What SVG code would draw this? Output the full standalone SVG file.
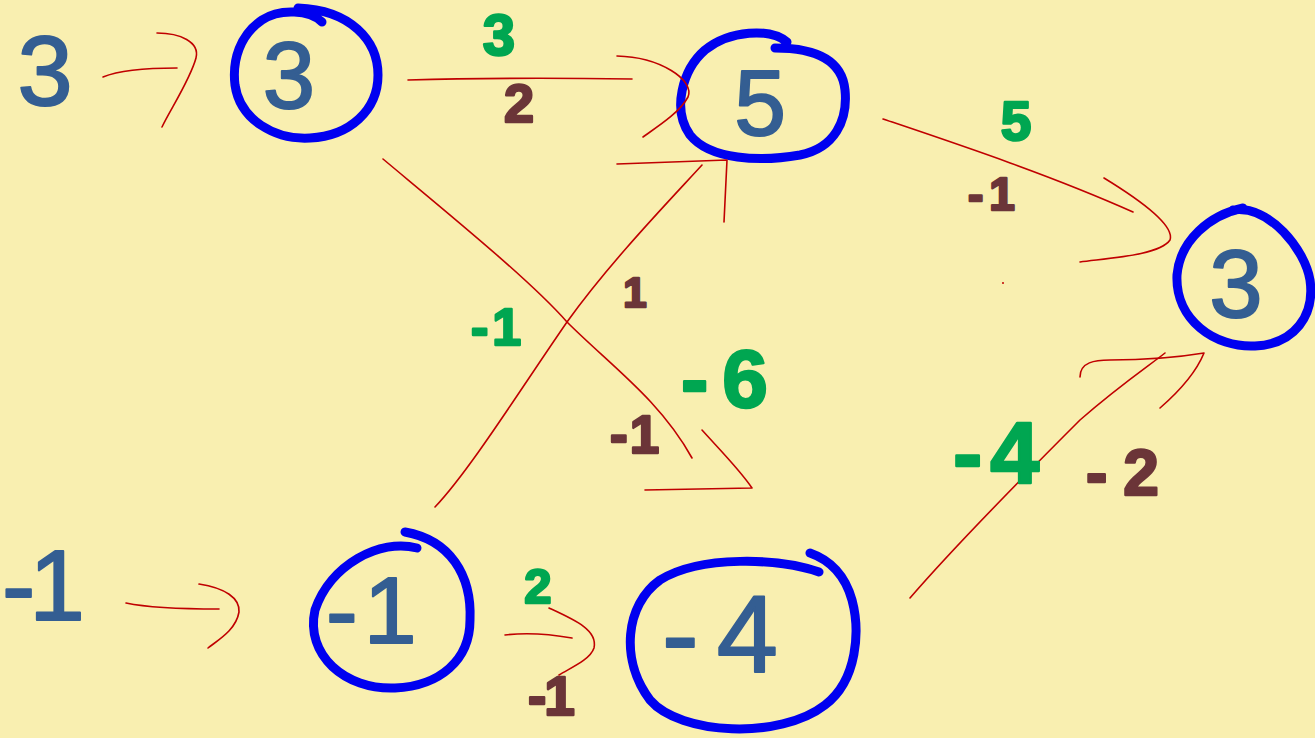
<svg xmlns="http://www.w3.org/2000/svg" width="1315" height="738" viewBox="0 0 1315 738">
<style>
.bg{fill:#F9EFB0}
.ring{fill:none;stroke:#0000F0;stroke-width:9;stroke-linecap:round;stroke-linejoin:round}
.val{font-family:"Liberation Sans","DejaVu Sans",sans-serif;fill:#345E92;stroke:#345E92;stroke-width:2;stroke-linejoin:round}
.g{font-family:"Liberation Sans","DejaVu Sans",sans-serif;font-weight:bold;fill:#00A651;stroke:#00A651;stroke-width:2.5;stroke-linejoin:round}
.b{font-family:"Liberation Sans","DejaVu Sans",sans-serif;font-weight:bold;fill:#6B3538;stroke:#6B3538;stroke-width:2.5;stroke-linejoin:round}
.e{fill:none;stroke:#C00000;stroke-width:1.6;stroke-linecap:round;stroke-linejoin:round}
</style>
<rect class="bg" x="0" y="0" width="1315" height="738"/>

<g id="input-3"><text class="val" x="45" y="105" font-size="99" text-anchor="middle">3</text></g>
<g id="input-neg1"><text class="val" x="2" y="620" font-size="100" letter-spacing="-6">-1</text></g>

<g id="node-3a">
<path class="ring" d="M322,22 C310,10 280,8 262,20 C240,35 232,60 235,85 C240,120 275,140 310,138 C350,136 378,110 378,75 C378,40 350,10 298,8"/>
<text class="val" x="289" y="108" font-size="94" text-anchor="middle">3</text>
</g>
<g id="node-5">
<path class="ring" d="M787,42 C770,28 730,30 705,50 C682,70 672,110 690,135 C710,160 760,162 800,155 C835,148 848,120 845,90 C842,60 815,48 775,48"/>
<text class="val" x="760" y="135" font-size="93" text-anchor="middle">5</text>
</g>
<g id="node-3b">
<path class="ring" d="M1243,208 C1210,215 1180,240 1177,275 C1175,320 1215,348 1255,346 C1295,344 1315,315 1310,280 C1305,250 1270,205 1233,210"/>
<text class="val" x="1236" y="317" font-size="96" text-anchor="middle">3</text>
</g>
<g id="node-neg1">
<path class="ring" d="M417,548 C380,538 330,565 315,610 C305,655 345,690 395,688 C440,686 470,660 470,620 C472,575 450,540 405,532"/>
<text class="val" x="326" y="643" font-size="95" letter-spacing="6">-1</text>
</g>
<g id="node-neg4">
<path class="ring" d="M819,572 C780,558 700,555 660,580 C625,605 620,660 650,700 C680,735 780,740 825,705 C858,680 860,630 852,600 C845,575 830,560 810,553"/>
<text class="val" x="662" y="672" font-size="110" letter-spacing="18">-4</text>
</g>

<g id="connectors">
<path class="e" d="M103,77 C120,70 150,68 177,68"/>
<path class="e" d="M157,33 C180,33 200,42 196,58 C190,80 170,110 162,127"/>
<path class="e" d="M408,80 C480,78 560,78 632,79"/>
<path class="e" d="M617,56 C660,57 695,80 688,97 C680,112 660,125 643,137"/>
<path class="e" d="M435,507 C470,470 520,390 567,322 C610,262 670,200 702,165"/>
<path class="e" d="M617,164 L727,160 C726,180 725,200 724,222"/>
<path class="e" d="M383,159 C450,215 530,280 567,322 C610,365 660,400 692,458"/>
<path class="e" d="M702,430 C720,450 740,470 752,488 L645,490"/>
<path class="e" d="M883,119 C960,145 1050,175 1133,212"/>
<path class="e" d="M1104,178 C1140,200 1175,225 1170,240 C1160,255 1110,258 1080,262"/>
<path class="e" d="M126,603 C150,608 190,609 219,609"/>
<path class="e" d="M199,584 C225,588 240,598 239,612 C236,630 218,640 208,648"/>
<path class="e" d="M505,635 C530,632 555,635 572,638"/>
<path class="e" d="M549,608 C575,620 598,630 594,648 C590,660 570,668 559,675"/>
<path class="e" d="M910,598 C960,540 1030,470 1080,420 C1120,385 1150,365 1165,353"/>
<path class="e" d="M1080,377 C1080,362 1095,360 1110,360 C1150,360 1180,357 1204,353 C1195,375 1175,395 1160,408"/>
<circle cx="1003" cy="283" r="1" fill="#C00000"/>
</g>

<g id="labels">
<text class="g" x="499" y="55" font-size="58" text-anchor="middle">3</text>
<text class="b" x="519" y="122" font-size="54" text-anchor="middle">2</text>
<text class="g" x="1016" y="140" font-size="55" text-anchor="middle">5</text>
<text class="b" x="968" y="210" font-size="46" letter-spacing="6">-1</text>
<text class="g" x="471" y="345" font-size="52" letter-spacing="4">-1</text>
<text class="b" x="635" y="307" font-size="42" text-anchor="middle">1</text>
<text class="g" x="681" y="407" font-size="82" letter-spacing="14">-6</text>
<text class="b" x="610" y="453" font-size="53" letter-spacing="2">-1</text>
<text class="g" x="538" y="603" font-size="49" text-anchor="middle">2</text>
<text class="b" x="528" y="715" font-size="55" letter-spacing="-2">-1</text>
<text class="g" x="953" y="483" font-size="88" letter-spacing="8">-4</text>
<text class="b" x="1086" y="495" font-size="64" letter-spacing="16">-2</text>
</g>
</svg>
